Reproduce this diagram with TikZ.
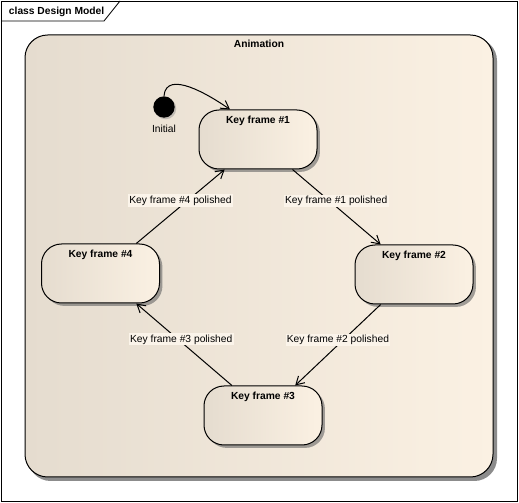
\documentclass[tikz,border=0pt]{standalone}
\usepackage{fontspec}
\setmainfont{Liberation Sans}
\usetikzlibrary{arrows.meta,shadows}
\definecolor{shadeleft}{RGB}{229,220,207}
\definecolor{shaderight}{RGB}{251,241,227}
\definecolor{labelbg}{RGB}{251,244,234}

\begin{document}
\begin{tikzpicture}[x=0.75pt, y=-0.75pt, line width=0.75pt,
	every node/.style={font=\fontsize{7.7}{9}\selectfont},
	state/.style={draw, rounded corners=15pt, minimum width=88.5pt, minimum height=44.25pt,
		left color=shadeleft, right color=shaderight,
		drop shadow={shadow xshift=2.2pt, shadow yshift=-2.2pt, fill=black!60, opacity=0.6}},
	title/.style={font=\fontsize{7.7}{9}\selectfont\bfseries},
	trans/.style={-{Straight Barb[length=6pt, width=7pt]}},
	guard/.style={fill=labelbg, inner sep=1pt}]
	\useasboundingbox (0,0) rectangle (519,503);

	% frame
	\draw[line width=0.6pt, fill=white] (1,1) rectangle (517,501);
	\draw[line width=0.6pt] (1,21) -- (104,21) -- (120,1);
	\node[title, anchor=west] (frametitle) at (4,12) {class Design Model};

	% region
	\draw[draw=none, fill=black!45, rounded corners=17pt] (28,38) rectangle (497,481);
	\draw[left color=shadeleft, right color=shaderight, rounded corners=17pt] (25,35) rectangle (493,477);
	\node[title] (animation) at (259,44) {Animation};

	% states
	\node[state, label={[title, anchor=north, yshift=-1pt]north:Key frame \#1}] (kf1) at (258,139.5) {};
	\node[state, label={[title, anchor=north, yshift=-1pt]north:Key frame \#2}] (kf2) at (414,274.5) {};
	\node[state, label={[title, anchor=north, yshift=-1pt]north:Key frame \#3}] (kf3) at (263,415.5) {};
	\node[state, label={[title, anchor=north, yshift=-1pt]north:Key frame \#4}] (kf4) at (100.5,273.5) {};

	\node[circle, fill=black, minimum size=16pt, inner sep=0pt,
		drop shadow={shadow xshift=1.2pt, shadow yshift=-1.2pt, opacity=0.4}] (init) at (164,107) {};
	\node[below=1.5pt] (initlabel) at (init.south) {Initial};

	% transitions
	\draw[trans] (init.north) to[out=85, in=145] (kf1.133);
	\draw[trans] (kf1.-41) -- node[guard, pos=0.42, xshift=5pt] {Key frame \#1 polished} (kf2.138);
	\draw[trans] (kf2.-138) -- node[guard, pos=0.5, yshift=3.75pt] {Key frame \#2 polished} (kf3.43);
	\draw[trans] (kf3.136) -- node[guard, pos=0.53, yshift=2pt] {Key frame \#3 polished} (kf4.-40);
	\draw[trans] (kf4.40) -- node[guard, pos=0.5, yshift=4.5pt] {Key frame \#4 polished} (kf1.-138);
\end{tikzpicture}
\end{document}
